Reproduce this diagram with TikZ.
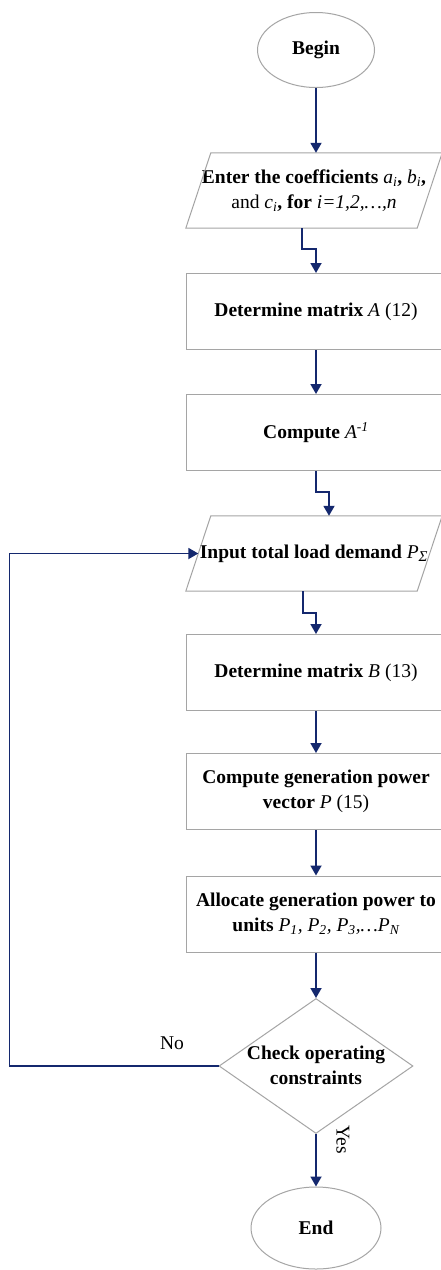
\documentclass[tikz,border=0pt]{standalone}
\usepackage{fontspec}
\setmainfont{Liberation Serif}
\usetikzlibrary{arrows.meta,shapes.geometric}
\definecolor{flowblue}{RGB}{20,40,110}
\definecolor{edgegray}{RGB}{165,165,165}
% symbols inside the bold labels: upright weight, italic shape
\newcommand{\mi}[1]{{\mdseries\itshape #1}}
\newcommand{\nm}[1]{{\mdseries #1}}

\begin{document}
\begin{tikzpicture}[x=1pt,y=-1pt,
  every node/.style={font=\fontsize{19.5}{24.5}\selectfont\bfseries, align=center},
  term/.style={ellipse, draw=edgegray, line width=1pt, inner sep=0pt},
  procbox/.style={rectangle, draw=edgegray, line width=1pt, minimum width=260pt,
    minimum height=76pt, inner sep=0pt},
  iobox/.style={rectangle, minimum width=231pt, minimum height=75pt, inner sep=0pt},
  iofrm/.style={draw=edgegray, line width=1pt},
  decision/.style={diamond, draw=edgegray, line width=1pt, minimum width=194pt,
    minimum height=135pt, inner sep=0pt},
  flow/.style={draw=flowblue, line width=1.8pt, -{Triangle[width=11pt,length=10pt]}},
  plain/.style={font=\fontsize{19.5}{24.5}\selectfont\mdseries}
]
\fill[white] (0,0) rectangle (441,1270);
\useasboundingbox (0,0) rectangle (441,1270);

% terminals, steps, inputs and the decision
\node[term, minimum width=117pt, minimum height=75pt] (begin) at (316,50) {Begin};

\node[iobox] (in1) at (314,190.5)
  {Enter the coefficients \mi{a}\textsubscript{\mi{i}}, \mi{b}\textsubscript{\mi{i}},\\
   \nm{and} \mi{c}\textsubscript{\mi{i}}, for \mi{i=1,2,\dots,n}};
\draw[iofrm] ([xshift=12.5pt]in1.north west) -- ([xshift=12.5pt]in1.north east)
  -- ([xshift=-12.5pt]in1.south east) -- ([xshift=-12.5pt]in1.south west) -- cycle;

\node[procbox] (detA) at (316,311.5) {Determine matrix \mi{A} \nm{(12)}};
\node[procbox] (invA) at (316,432.5) {Compute \mi{A}\textsuperscript{\mi{-1}}};

\node[iobox] (in2) at (314,553.5)
  {Input total load demand \mi{P}\textsubscript{\mi{\fontsize{15}{15}\selectfont Σ}}};
\draw[iofrm] ([xshift=12.5pt]in2.north west) -- ([xshift=12.5pt]in2.north east)
  -- ([xshift=-12.5pt]in2.south east) -- ([xshift=-12.5pt]in2.south west) -- cycle;

\node[procbox] (detB) at (316,672.5) {Determine matrix \mi{B} \nm{(13)}};
\node[procbox] (vecP) at (316,791.5) {Compute generation power\\vector \mi{P} \nm{(15)}};
\node[procbox] (alloc) at (316,914)
  {Allocate generation power to\\units \mi{P}\textsubscript{\mi{1}}\mi{, P}\textsubscript{\mi{2}}\mi{, P}\textsubscript{\mi{3}}\mi{,\dots P}\textsubscript{\mi{N}}};

\node[decision] (chk) at (316,1066) {};
\node (chktxt) at (316,1065.5) {Check operating\\constraints};

\node[term, minimum width=130pt, minimum height=82pt] (end) at (316,1228) {End};

% connectors
\draw[flow] (begin.south) -- (begin.south |- in1.north);
\draw[flow] ([xshift=-12pt]in1.south) -- ++(0,21) -| (detA.north);
\draw[flow] (detA.south) -- (invA.north);
\draw[flow] (invA.south) -- ++(0,21) -| ([xshift=15pt]in2.north);
\draw[flow] ([xshift=-11pt]in2.south) -- ++(0,22) -| (detB.north);
\draw[flow] (detB.south) -- (vecP.north);
\draw[flow] (vecP.south) -- (alloc.north);
\draw[flow] (alloc.south) -- (chk.north);
\draw[flow] (chk.south) -- (end.north);
\draw[flow] (chk.west) -- ++(-209,0) |- (in2.west);

% branch labels
\node[plain] (no) at (172,1043) {No};
\node[plain, rotate=-90] (yes) at (343,1140) {Yes};
\end{tikzpicture}
\end{document}
